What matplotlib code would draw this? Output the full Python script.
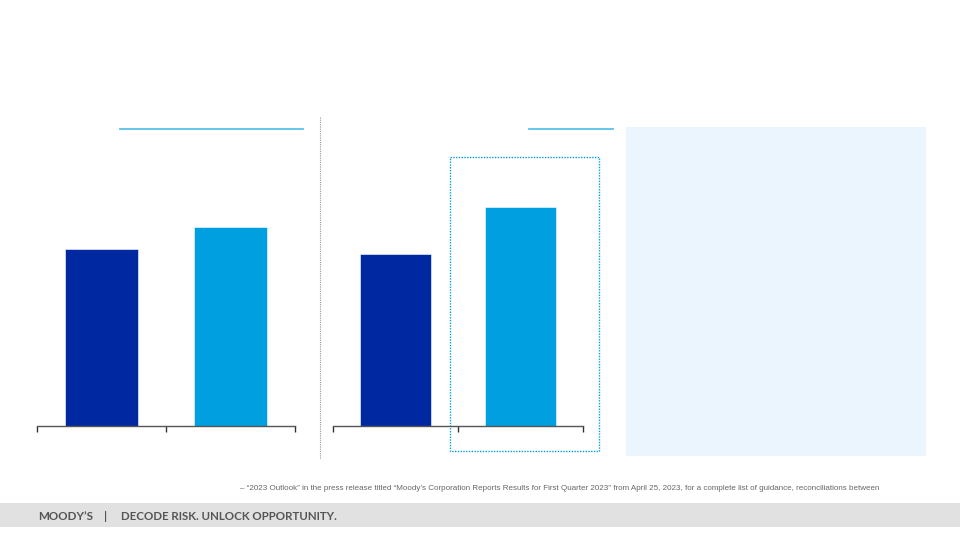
import matplotlib
matplotlib.use('Agg')
import matplotlib.pyplot as plt
from matplotlib.patches import Rectangle

# bar values (relative)
left_cats = ['A', 'B']
left_vals = [1.77, 1.99]
right_cats = ['A', 'B']
right_vals = [1.72, 2.19]
bar_colors = ['#0028A0', '#00A0E0']

footnote = ('\u2013 \u201c2023 Outlook\u201d in the press release titled \u201cMoody\u2019s Corporation Reports '
            'Results for First Quarter 2023\u201d from April 25, 2023, for a complete list of guidance, '
            'reconciliations between')
brand = "MOODY\u2019S"
tagline = "DECODE RISK. UNLOCK OPPORTUNITY."

W, H = 960, 540
fig = plt.figure(figsize=(9.6, 5.4), dpi=100)


def px_axes(x0, y0, x1, y1):
    # pixel box (top-left origin) -> figure axes
    return fig.add_axes([x0 / W, 1 - y1 / H, (x1 - x0) / W, (y1 - y0) / H])


def bar_panel(ax, cats, vals):
    ax.bar(range(len(cats)), vals, width=0.57, color=bar_colors,
           edgecolor='white', linewidth=0.4)
    ax.set_xlim(-0.5, len(cats) - 0.5)
    ax.set_ylim(0, 3.0)
    for s in ['top', 'right', 'left']:
        ax.spines[s].set_visible(False)
    ax.spines['bottom'].set_color('#555555')
    ax.spines['bottom'].set_linewidth(1.0)
    ax.set_yticks([])
    ax.set_xticks([-0.5, 0.5, 1.5])
    ax.set_xticklabels([])
    ax.tick_params(axis='x', direction='out', length=4, width=1.0, color='#333333')
    ax.patch.set_alpha(0)


# overlay for decorations in pixel coordinates
bg = fig.add_axes([0, 0, 1, 1])
bg.set_xlim(0, W)
bg.set_ylim(H, 0)
bg.axis('off')

# right info panel
bg.add_patch(Rectangle((626, 127), 300, 329, facecolor='#EAF5FD', edgecolor='none'))
# header rules
bg.plot([120, 303], [128.5, 128.5], color='#5BC0EA', lw=1.3)
bg.plot([529, 613], [128.5, 128.5], color='#5BC0EA', lw=1.3)
# divider
bg.plot([320, 320], [117, 459], color='#999999', lw=0.8, ls=(0, (1, 1)))
# highlight box
bg.add_patch(Rectangle((449.5, 156.5), 149, 294, facecolor='none', edgecolor='#00A0E0',
                       lw=1.0, ls=(0, (1, 1))))
# footer bar
bg.add_patch(Rectangle((0, 503), W, 24, facecolor='#E1E1E1', edgecolor='none'))
bg.text(38, 516, brand, fontsize=8.4, fontweight='bold', color='#555555',
        va='center', ha='left', family='Lato')
bg.text(106, 516, '|', fontsize=8.4, fontweight='bold', color='#555555',
        va='center', ha='center', family='Lato')
bg.text(121, 516, tagline, fontsize=8.3, fontweight='bold', color='#555555',
        va='center', ha='left', family='Lato')
bg.text(240, 489, footnote, fontsize=5.8, color='#666666', va='center', ha='left',
        family='Liberation Sans')

ax1 = px_axes(37, 126, 295, 426)
bar_panel(ax1, left_cats, left_vals)
ax2 = px_axes(333, 126, 583, 426)
bar_panel(ax2, right_cats, right_vals)

fig.savefig('out.png', dpi=100)
